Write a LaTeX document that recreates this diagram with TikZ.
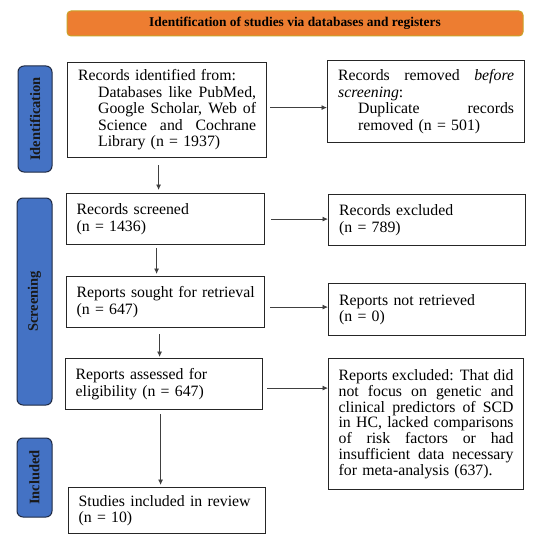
\documentclass[tikz,border=0pt]{standalone}
\usepackage{fontspec}
\setmainfont{Liberation Serif}
\usetikzlibrary{arrows.meta,calc}
\definecolor{hdrfill}{HTML}{ED7D31}
\definecolor{hdrline}{HTML}{C9A227}
\definecolor{phasefill}{HTML}{4472C4}
\definecolor{phaseline}{HTML}{1F2A44}
\newcommand\jline[2]{\makebox[#1][s]{\spaceskip=0pt\xspaceskip=0pt #2}}
\begin{document}
\begin{tikzpicture}[x=1pt,y=-1pt,
  box/.style={draw=black!85, line width=1.2pt, anchor=north west, inner xsep=11pt,
    inner ysep=0pt, font=\fontsize{15.8}{16.5}\selectfont, align=left},
  phase/.style={draw=phaseline, line width=1pt, fill=phasefill, rounded corners=6pt,
    rotate=90, inner sep=0pt, text=black!90, font=\fontsize{14.5}{16}\selectfont\bfseries},
  header/.style={draw=hdrline, line width=1pt, fill=hdrfill, rounded corners=4pt,
    inner sep=0pt, font=\fontsize{13.4}{15}\selectfont\bfseries},
  arr/.style={draw=black!75, line width=0.8pt, -{Latex[length=5.5pt,width=5pt]}}]
\useasboundingbox (0,0) rectangle (534,540);
\fill[white] (0,0) rectangle (534,540);

\node[header, minimum width=456pt, minimum height=25pt] (hdr) at (295,23.5)
  {Identification of studies via databases and registers};

\node[phase, minimum width=106pt, minimum height=34pt] (pid) at (35,119) {Identification};
\node[phase, minimum width=207pt, minimum height=35pt] (psc) at (34.5,301.5) {Screening};
\node[phase, minimum width=79pt, minimum height=35pt] (pin) at (34.5,477.5) {Included};

\node[box, minimum width=199pt, minimum height=95pt, text width=178pt, inner xsep=10.5pt] (b1) at (67,62)
  {Records identified from:\\
   \hspace*{20pt}\jline{158pt}{Databases like PubMed,}\\
   \hspace*{20pt}\jline{158pt}{Google Scholar, Web of}\\
   \hspace*{20pt}\jline{158pt}{Science and Cochrane}\\
   \hspace*{20pt}Library (n = 1937)};
\node[box, minimum width=198pt, minimum height=51pt, text width=178pt, inner xsep=10pt] (b2) at (66,193)
  {Records screened\\(n = 1436)};
\node[box, minimum width=198pt, minimum height=51pt, text width=178pt, inner xsep=10pt] (b3) at (66,276)
  {\mbox{Reports sought for retrieval}\\(n = 647)};
\node[box, minimum width=197pt, minimum height=51pt, text width=177pt, inner xsep=10pt] (b4) at (65,358)
  {Reports assessed for\\eligibility (n = 647)};
\node[box, minimum width=197pt, minimum height=46pt, text width=177pt, inner xsep=10pt] (b5) at (68,487)
  {Studies included in review\\(n = 10)};

\node[box, minimum width=197pt, minimum height=82pt, text width=176pt, inner xsep=10pt] (r1) at (327,60)
  {\jline{176pt}{Records removed \textit{before}}\\
   \textit{screening}:\\
   \hspace*{20pt}\jline{156pt}{Duplicate records}\\
   \hspace*{20pt}removed (n = 501)};
\node[box, minimum width=197pt, minimum height=51pt, text width=176pt, inner xsep=10pt] (r2) at (328,194)
  {Records excluded\\(n = 789)};
\node[box, minimum width=197pt, minimum height=52pt, text width=176pt, inner xsep=10pt] (r3) at (328,283)
  {Reports not retrieved\\(n = 0)};
\node[box, minimum width=195pt, minimum height=131pt, text width=175pt, inner xsep=10pt,
  font=\fontsize{15.8}{15.8}\selectfont] (r4) at (328,358)
  {\jline{175pt}{Reports excluded: That did}\\
   \jline{175pt}{not focus on genetic and}\\
   \jline{175pt}{clinical predictors of SCD}\\
   \jline{175pt}{in HC, lacked comparisons}\\
   \jline{175pt}{of risk factors or had}\\
   \jline{175pt}{insufficient data necessary}\\
   for meta-analysis (637).};

% horizontal arrows
\draw[arr] ([xshift=3pt,yshift=2.5pt]b1.east) -- ([yshift=2.5pt]b1.east -| r1.west);
\draw[arr] ([xshift=6pt]b2.east) -- (b2.east -| r2.west);
\draw[arr] ([xshift=5pt,yshift=-5pt]b3.east) -- ([yshift=-5pt]b3.east -| r3.west);
\draw[arr] ([xshift=4pt,yshift=-4pt]b4.east) -- ([yshift=-4pt]b4.east -| r4.west);

% vertical arrows
\draw[arr, shorten <=7pt, shorten >=3pt] ([xshift=-8.5pt]b1.south) -- ([xshift=-8.5pt]b1.south |- b2.north);
\draw[arr, shorten <=3pt, shorten >=2pt] ([xshift=-9pt]b2.south) -- ([xshift=-9pt]b2.south |- b3.north);
\draw[arr, shorten <=6pt, shorten >=1pt] ([xshift=-6pt]b3.south) -- ([xshift=-6pt]b3.south |- b4.north);
\draw[arr, shorten <=4pt, shorten >=2pt] ([xshift=-3.5pt]b4.south) -- ([xshift=-3.5pt]b4.south |- b5.north);
\end{tikzpicture}
\end{document}
